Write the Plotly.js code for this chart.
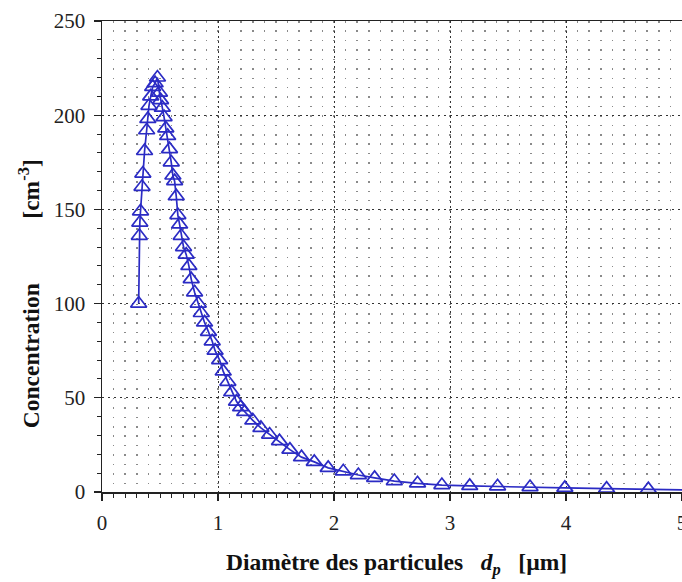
<!DOCTYPE html>
<html>
<head>
<meta charset="utf-8">
<script src="https://cdn.plot.ly/plotly-3.0.1.min.js"></script>
<style>html,body{margin:0;padding:0;background:#fff;}#chart{width:682px;height:582px;}</style>
</head>
<body>
<div id="chart"></div>
<script>
// Particle diameter d_p [µm]
var diameter = [
  0.316, 0.322, 0.326, 0.332, 0.345, 0.352, 0.367, 0.385, 0.395, 0.405,
  0.420, 0.437, 0.458, 0.478, 0.495, 0.505, 0.520, 0.535, 0.550, 0.566,
  0.582, 0.597, 0.611, 0.626, 0.640, 0.654, 0.669, 0.683, 0.703, 0.726,
  0.749, 0.769, 0.798, 0.830, 0.856, 0.884, 0.918, 0.950, 0.975, 1.014,
  1.045, 1.085, 1.118, 1.160, 1.195, 1.230, 1.300, 1.370, 1.445, 1.530,
  1.620, 1.720, 1.830, 1.950, 2.080, 2.210, 2.350, 2.520, 2.720, 2.930,
  3.170, 3.410, 3.690, 3.990, 4.350, 4.710, 5.070
];
// Concentration [cm^-3]
var concentration = [
  100, 136, 143, 149, 162, 169, 181, 192, 198, 205,
  210, 215, 217, 220, 212, 208, 204, 199, 193, 189,
  182, 175, 168, 165, 157, 147, 142, 136, 130, 126,
  120, 113, 106, 100, 95, 90, 85, 80, 75, 70,
  64, 58.5, 53, 48, 45, 42.5, 38, 34, 30.5, 27,
  22.5, 18.5, 16, 12.8, 11, 9, 7.5, 5.8, 4.6, 3.7,
  3.2, 3.0, 2.6, 2.2, 1.8, 1.5, 1.0
];
var xTickVals = [0, 1, 2, 3, 4, 5];
var yTickVals = [0, 50, 100, 150, 200, 250];

var blue = '#2b2bc4';
var trace = {
  x: diameter,
  y: concentration,
  type: 'scatter',
  mode: 'lines+markers',
  line: {color: blue, width: 1.7},
  marker: {symbol: 'triangle-up-open', size: 14, color: blue, line: {color: blue, width: 1.7}},
  showlegend: false,
  cliponaxis: true
};

var tickFont = {family: '"Liberation Serif", "Times New Roman", serif', size: 21, color: '#222'};
var titleFont = {family: '"Liberation Serif", "Times New Roman", serif', size: 23.5, color: '#111'};
var sp3 = '&nbsp;&nbsp;&nbsp;';
var sp11 = '&nbsp;&nbsp;&nbsp;&nbsp;&nbsp;&nbsp;&nbsp;&nbsp;&nbsp;&nbsp;&nbsp;';

var layout = {
  width: 682, height: 582,
  margin: {l: 102, r: 0, t: 21, b: 90},
  paper_bgcolor: '#fff', plot_bgcolor: '#fff',
  font: tickFont,
  xaxis: {
    range: [0, 5], tickvals: xTickVals, ticktext: xTickVals.map(String),
    showline: true, linecolor: '#222', linewidth: 1.5, mirror: true,
    ticks: 'outside', ticklen: 7, tickwidth: 1.3, tickcolor: '#222',
    showgrid: true, gridcolor: '#333', gridwidth: 1, griddash: '2px,3px',
    zeroline: false, tickfont: tickFont, ticklabelstandoff: 4,
    ticklabeloverflow: 'allow',
    minor: {dtick: 0.1, ticks: 'outside', ticklen: 4, tickwidth: 1, tickcolor: '#222',
            showgrid: true, gridcolor: '#8a8a8a', gridwidth: 1.5, griddash: '1.5px,7.92px'}
  },
  yaxis: {
    range: [0, 250], tickvals: yTickVals, ticktext: yTickVals.map(String),
    showline: true, linecolor: '#222', linewidth: 1.5, mirror: true,
    ticks: 'outside', ticklen: 7, tickwidth: 1.3, tickcolor: '#222',
    showgrid: true, gridcolor: '#333', gridwidth: 1, griddash: '2px,4px',
    zeroline: false, tickfont: tickFont, ticklabelstandoff: 4,
    minor: {dtick: 10, ticks: 'outside', ticklen: 4, tickwidth: 1, tickcolor: '#222', showgrid: false}
  },
  annotations: [
    {text: '<b>Diamètre des particules' + sp3 + '<i>d</i><sub><i>p</i></sub>' + sp3 + '[µm]</b>',
     xref: 'paper', yref: 'paper', x: 0.508, y: 0, xanchor: 'center', yanchor: 'middle',
     yshift: -72, showarrow: false, font: titleFont},
    {text: '<b>Concentration' + sp11 + '[cm<sup>-3</sup>]</b>',
     xref: 'paper', yref: 'paper', x: 0, y: 0.42, xanchor: 'center', yanchor: 'middle',
     xshift: -73, textangle: -90, showarrow: false, font: titleFont}
  ]
};

Plotly.newPlot('chart', [trace], layout, {displayModeBar: false, staticPlot: true});
</script>
</body>
</html>
